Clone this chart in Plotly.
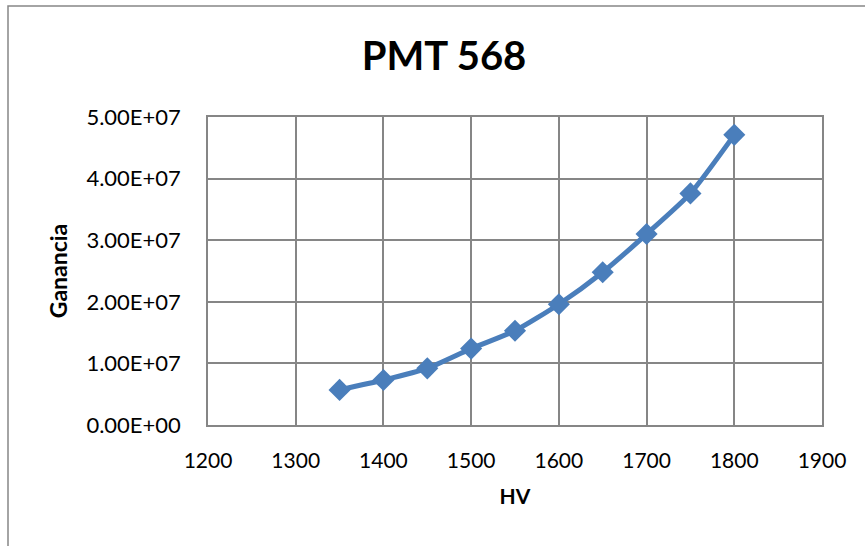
import plotly.graph_objects as go

# High voltage (V) vs. gain for PMT 568
hv = [1350, 1400, 1450, 1500, 1550, 1600, 1650, 1700, 1750, 1800]
ganancia = [5.7e6, 7.3e6, 9.2e6, 1.24e7, 1.53e7, 1.96e7, 2.48e7, 3.10e7, 3.76e7, 4.71e7]

x_ticks = [1200, 1300, 1400, 1500, 1600, 1700, 1800, 1900]
y_ticks = [0, 1e7, 2e7, 3e7, 4e7, 5e7]
y_tick_labels = ["0.00E+00", "1.00E+07", "2.00E+07", "3.00E+07", "4.00E+07", "5.00E+07"]

font_family = "Lato, Open Sans, Arial"
blue = "#4A7EBB"
grid = "#868686"

# plot-area pixel box, used to place the outer frame in paper units
L, R, T, B = 208, 822, 117, 425
W, H = R - L, B - T

fig = go.Figure(
    go.Scatter(
        x=hv,
        y=ganancia,
        mode="lines+markers",
        line=dict(color=blue, width=5, shape="spline", smoothing=0.6),
        marker=dict(symbol="diamond", size=17, color=blue),
        showlegend=False,
    )
)

fig.update_layout(
    width=865,
    height=546,
    margin=dict(l=L, r=865 - R, t=T, b=546 - B),
    paper_bgcolor="white",
    plot_bgcolor="white",
    font=dict(family=font_family, color="black"),
    title=dict(
        text="<b>PMT 568</b>",
        x=444 / 865,
        xanchor="center",
        y=1 - 56 / 546,
        yanchor="middle",
        font=dict(size=40, family=font_family, color="black"),
    ),
    shapes=[
        dict(
            type="rect",
            xref="paper",
            yref="paper",
            x0=(8 - L) / W,
            x1=(880 - L) / W,
            y0=(B - 560) / H,
            y1=(B - 6) / H,
            line=dict(color=grid, width=1.5),
            layer="below",
        )
    ],
)

fig.update_xaxes(
    range=[1200, 1900],
    tickvals=x_ticks,
    ticktext=[str(v) for v in x_ticks],
    showgrid=True,
    gridcolor=grid,
    gridwidth=1.5,
    showline=True,
    linecolor=grid,
    linewidth=1.5,
    mirror=True,
    zeroline=False,
    ticks="",
    tickfont=dict(size=21, family=font_family, color="black"),
    ticklabelstandoff=16,
    title=dict(text="<b>HV</b>", font=dict(size=21, family=font_family), standoff=18),
)

fig.update_yaxes(
    range=[0, 5e7],
    tickvals=y_ticks,
    ticktext=y_tick_labels,
    showgrid=True,
    gridcolor=grid,
    gridwidth=1.5,
    showline=True,
    linecolor=grid,
    linewidth=1.5,
    mirror=True,
    zeroline=False,
    ticks="",
    tickfont=dict(size=22, family=font_family, color="black"),
    ticklabelstandoff=21,
    title=dict(text="<b>Ganancia</b>", font=dict(size=23, family=font_family), standoff=12),
)

fig.write_html("out.html")
